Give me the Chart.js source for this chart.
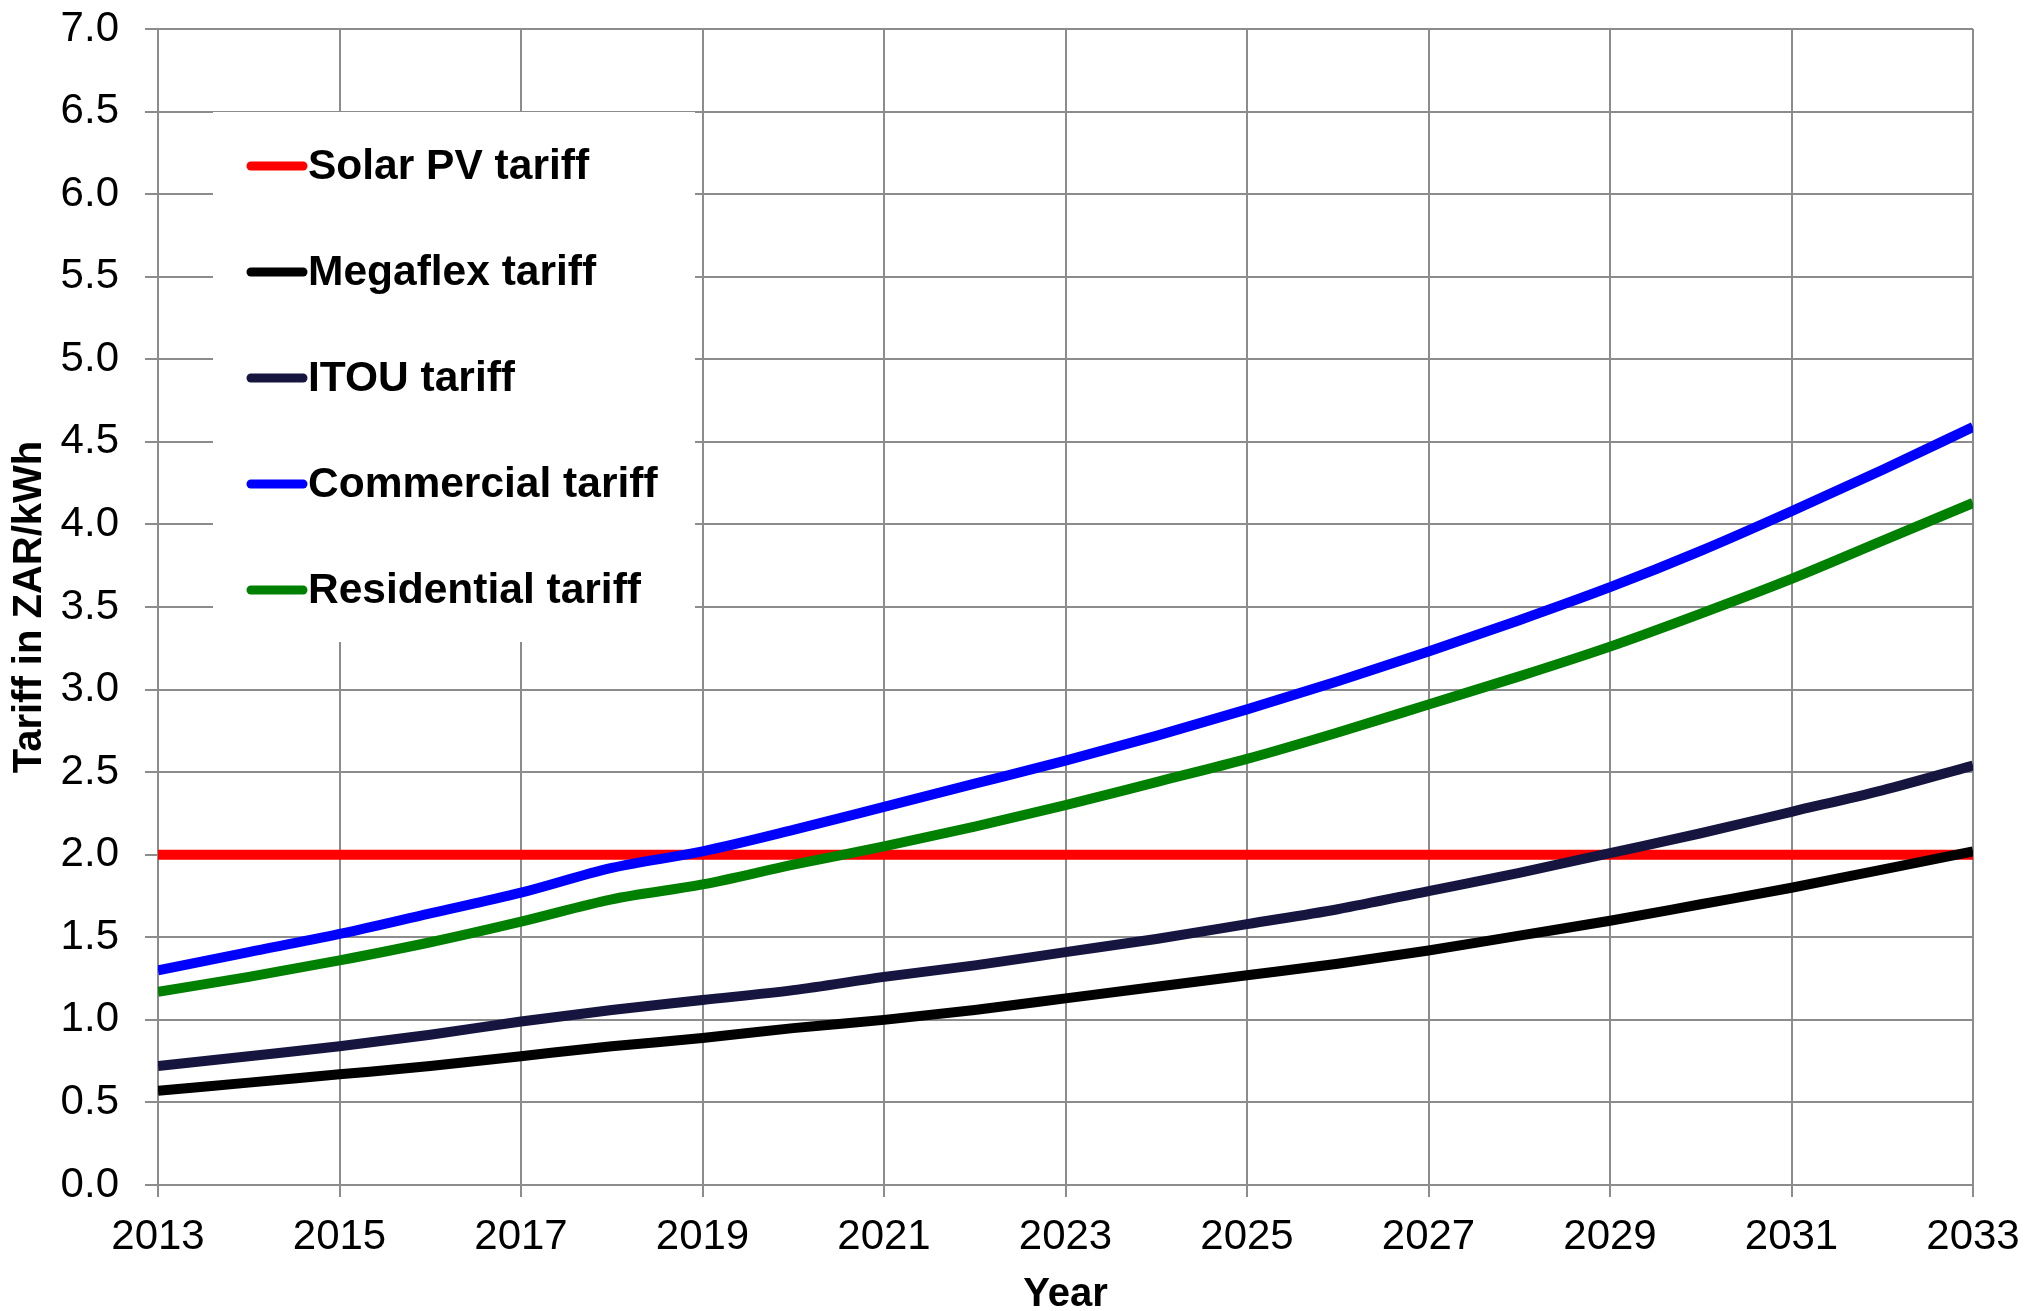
<!DOCTYPE html>
<html>
<head>
<meta charset="utf-8">
<script src="https://cdn.jsdelivr.net/npm/chart.js@4/dist/chart.umd.min.js"></script>
<style>
  html, body { margin: 0; padding: 0; background: #fff; }
  #wrap { width: 2026px; height: 1311px; }
</style>
</head>
<body>
<div id="wrap"><canvas id="myChart" width="2026" height="1311"></canvas></div>
<script>
/* data */
const years = [2013, 2014, 2015, 2016, 2017, 2018, 2019, 2020, 2021, 2022, 2023,
  2024, 2025, 2026, 2027, 2028, 2029, 2030, 2031, 2032, 2033];

const solarPV = [2.0, 2.0, 2.0, 2.0, 2.0, 2.0, 2.0, 2.0, 2.0, 2.0, 2.0,
  2.0, 2.0, 2.0, 2.0, 2.0, 2.0, 2.0, 2.0, 2.0, 2.0];
const megaflex = [0.57, 0.62, 0.67, 0.72, 0.78, 0.84, 0.89, 0.95, 1.00, 1.06, 1.13,
  1.20, 1.27, 1.34, 1.42, 1.51, 1.60, 1.70, 1.80, 1.91, 2.02];
const itou = [0.72, 0.78, 0.84, 0.91, 0.99, 1.06, 1.12, 1.18, 1.26, 1.33, 1.41,
  1.49, 1.58, 1.67, 1.78, 1.89, 2.01, 2.13, 2.26, 2.39, 2.54];
const commercial = [1.30, 1.41, 1.52, 1.645, 1.77, 1.92, 2.02, 2.15, 2.29, 2.43, 2.57,
  2.72, 2.88, 3.05, 3.23, 3.42, 3.62, 3.84, 4.08, 4.33, 4.59];
const residential = [1.17, 1.26, 1.36, 1.47, 1.595, 1.73, 1.82, 1.94, 2.05, 2.17, 2.30,
  2.44, 2.58, 2.74, 2.91, 3.08, 3.26, 3.46, 3.67, 3.90, 4.13];

const xTicks = [2013, 2015, 2017, 2019, 2021, 2023, 2025, 2027, 2029, 2031, 2033];
const yTicks = [0, 0.5, 1, 1.5, 2, 2.5, 3, 3.5, 4, 4.5, 5, 5.5, 6, 6.5, 7];

const FONT = "'Liberation Sans', Arial, sans-serif";
const GRID = '#8c8c8c';

function toPoints(values) {
  return years.map(function (y, i) { return { x: y, y: values[i] }; });
}

function line(label, values, color, order) {
  return {
    label: label,
    data: toPoints(values),
    borderColor: color,
    backgroundColor: color,
    borderWidth: 10,
    pointRadius: 0,
    cubicInterpolationMode: 'monotone',
    order: order || 0
  };
}

/* legend drawn inside the plot, on a white box */
const legendBox = {
  id: 'legendBox',
  afterDatasetsDraw: function (chart) {
    const ctx = chart.ctx;
    const ds = chart.data.datasets;
    ctx.save();
    ctx.fillStyle = '#fff';
    ctx.fillRect(213, 112, 482, 530);
    ctx.font = 'bold 42.5px ' + FONT;
    ctx.textBaseline = 'middle';
    ctx.textAlign = 'left';
    ds.forEach(function (d, i) {
      const y = 166 + i * 106;
      ctx.strokeStyle = d.borderColor;
      ctx.lineWidth = 9;
      ctx.lineCap = 'round';
      ctx.beginPath();
      ctx.moveTo(251, y);
      ctx.lineTo(303, y);
      ctx.stroke();
      ctx.fillStyle = '#000';
      ctx.fillText(d.label, 308, y + 1);
    });
    ctx.restore();
  }
};

const ctx = document.getElementById('myChart').getContext('2d');

const chart = new Chart(ctx, {
  type: 'line',
  data: {
    datasets: [
      line('Solar PV tariff', solarPV, '#ff0000', 1),
      line('Megaflex tariff', megaflex, '#000000'),
      line('ITOU tariff', itou, '#151540'),
      line('Commercial tariff', commercial, '#0000ff'),
      line('Residential tariff', residential, '#008000')
    ]
  },
  options: {
    responsive: false,
    animation: false,
    layout: { padding: { left: 0, top: 29, right: 53, bottom: 0 } },
    plugins: {
      legend: { display: false },
      tooltip: { enabled: false }
    },
    scales: {
      x: {
        type: 'linear',
        min: 2013,
        max: 2033,
        afterBuildTicks: function (scale) {
          scale.ticks = xTicks.map(function (v) { return { value: v }; });
        },
        afterFit: function (scale) {
          scale.height = 126;
          scale.paddingLeft = 0;
          scale.paddingRight = 0;
        },
        ticks: {
          color: '#000',
          font: { family: FONT, size: 42 },
          padding: 15,
          maxRotation: 0,
          callback: function (v) { return String(v); }
        },
        grid: { color: GRID, lineWidth: 2, tickLength: 12, tickColor: GRID },
        border: { color: GRID, width: 2 },
        title: {
          display: true,
          text: 'Year',
          color: '#000',
          font: { family: FONT, size: 40, weight: 'bold', lineHeight: 0.8 },
          padding: { top: 0, bottom: 0 }
        }
      },
      y: {
        min: 0,
        max: 7,
        afterBuildTicks: function (scale) {
          scale.ticks = yTicks.map(function (v) { return { value: v }; });
        },
        afterFit: function (scale) {
          scale.width = 158;
          scale.paddingTop = 0;
          scale.paddingBottom = 0;
        },
        ticks: {
          color: '#000',
          font: { family: FONT, size: 42 },
          padding: 26,
          callback: function (v) { return v.toFixed(1); }
        },
        grid: { color: GRID, lineWidth: 2, tickLength: 13, tickColor: GRID },
        border: { color: GRID, width: 2 },
        title: {
          display: true,
          text: 'Tariff in ZAR/kWh',
          color: '#000',
          font: { family: FONT, size: 40, weight: 'bold', lineHeight: 1 },
          padding: { top: 10, bottom: 0 }
        }
      }
    }
  },
  plugins: [legendBox]
});
</script>
</body>
</html>
